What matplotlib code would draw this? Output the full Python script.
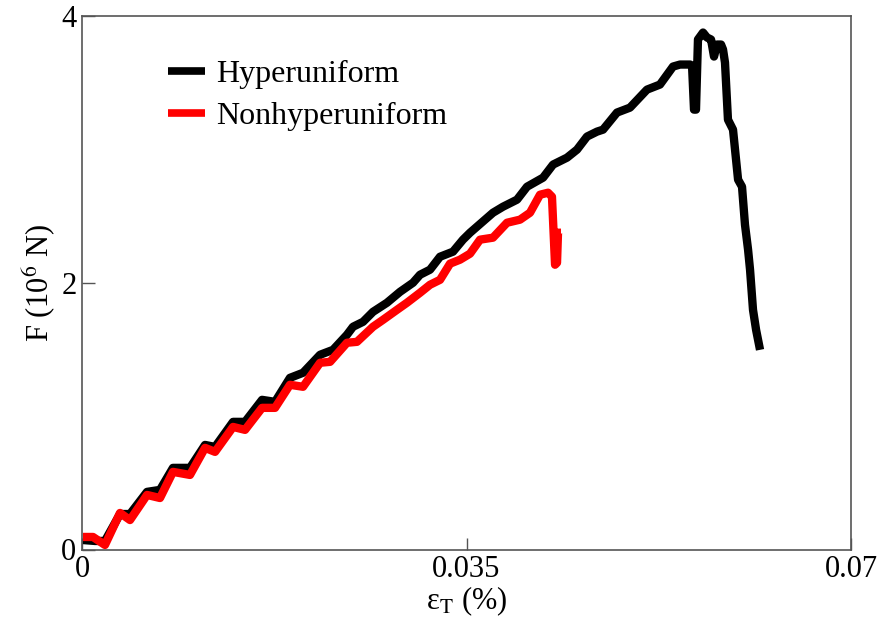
import matplotlib
matplotlib.use("Agg")
import matplotlib.pyplot as plt

# Hyperuniform (black) strain [%] and force [10^6 N]
hyper_x = [0.00009, 0.00118, 0.00209, 0.00346, 0.00437, 0.00592, 0.00710, 0.00828, 0.00983,
           0.01120, 0.01211, 0.01375, 0.01484, 0.01639, 0.01757, 0.01893, 0.02012, 0.02167,
           0.02285, 0.02412, 0.02467, 0.02558, 0.02649, 0.02776, 0.02895, 0.03013, 0.03077,
           0.03168, 0.03259, 0.03377, 0.03468, 0.03532, 0.03741, 0.03832, 0.03960, 0.04051,
           0.04197, 0.04288, 0.04415, 0.04506, 0.04597, 0.04688, 0.04743, 0.04870, 0.04988,
           0.05143, 0.05261, 0.05380, 0.05444, 0.05535, 0.05553, 0.05571, 0.05589, 0.05607,
           0.05653, 0.05689, 0.05726, 0.05753, 0.05780, 0.05817, 0.05835, 0.05853, 0.05880,
           0.05926, 0.05972, 0.06008, 0.06035, 0.06063, 0.06081, 0.06108, 0.06136, 0.06154,
           0.06172]
hyper_y = [0.071, 0.064, 0.064, 0.266, 0.266, 0.432, 0.447, 0.612, 0.612,
           0.784, 0.769, 0.957, 0.957, 1.122, 1.107, 1.287, 1.325, 1.460,
           1.497, 1.610, 1.670, 1.707, 1.782, 1.850, 1.932, 2.000, 2.060,
           2.098, 2.195, 2.233, 2.323, 2.375, 2.525, 2.570, 2.623, 2.720,
           2.788, 2.886, 2.938, 2.998, 3.096, 3.133, 3.148, 3.276, 3.313,
           3.448, 3.486, 3.621, 3.636, 3.636, 3.628, 3.298, 3.298, 3.824,
           3.876, 3.839, 3.824, 3.696, 3.786, 3.786, 3.749, 3.651, 3.223,
           3.148, 2.773, 2.720, 2.435, 2.248, 2.098, 1.797, 1.647, 1.572,
           1.497]

# Nonhyperuniform (red)
non_x = [0.00009, 0.00100, 0.00209, 0.00346, 0.00437, 0.00592, 0.00710, 0.00828, 0.00983,
         0.01120, 0.01211, 0.01375, 0.01484, 0.01639, 0.01757, 0.01893, 0.02012, 0.02167,
         0.02258, 0.02412, 0.02503, 0.02649, 0.02740, 0.02867, 0.02958, 0.03077, 0.03168,
         0.03259, 0.03350, 0.03441, 0.03532, 0.03623, 0.03741, 0.03869, 0.03987, 0.04078,
         0.04169, 0.04242, 0.04278, 0.04306, 0.04324, 0.04333, 0.04360]
non_y = [0.094, 0.094, 0.034, 0.274, 0.221, 0.409, 0.386, 0.582, 0.559,
         0.762, 0.732, 0.919, 0.897, 1.062, 1.062, 1.235, 1.220, 1.400,
         1.407, 1.550, 1.557, 1.670, 1.722, 1.797, 1.850, 1.925, 1.985,
         2.022, 2.143, 2.173, 2.218, 2.323, 2.338, 2.450, 2.473, 2.525,
         2.660, 2.675, 2.645, 2.135, 2.150, 2.375, 2.375]

x_ticks = [0, 0.035, 0.07]
x_tick_labels = ["0", "0.035", "0.07"]
y_ticks = [0, 2, 4]
y_tick_labels = ["0", "2", "4"]

plt.rcParams['font.family'] = ['Liberation Serif', 'DejaVu Serif']
plt.rcParams['mathtext.fontset'] = 'stix'

fig = plt.figure(figsize=(8.85, 6.31), dpi=100)
ax = fig.add_axes([82/885, 1 - 549.5/631, (851 - 82)/885, (549.5 - 16)/631])

ax.plot(hyper_x, hyper_y, color='black', lw=6, solid_joinstyle='round',
        solid_capstyle='butt', label='Hyperuniform', zorder=2)
ax.plot(non_x, non_y, color='#ff0000', lw=6, solid_joinstyle='round',
        solid_capstyle='butt', label='Nonhyperuniform', zorder=3)

ax.set_xlim(0, 0.07)
ax.set_ylim(0, 4)
ax.set_xticks(x_ticks)
ax.set_xticklabels(x_tick_labels)
ax.set_yticks(y_ticks)
ax.set_yticklabels(y_tick_labels)
ax.tick_params(direction='in', length=9, width=1.0, color='#555555',
               labelsize=22)
ax.tick_params(axis='x', pad=4)
ax.tick_params(axis='y', pad=4)
for s in ax.spines.values():
    s.set_color('#555555')
    s.set_linewidth(1.2)

ax.set_xlabel(r'ε$_{\mathrm{T}}$ (%)', fontsize=22, labelpad=0)
ax.set_ylabel(r'F (10$^{6}$ N)', fontsize=22, labelpad=2)

leg = ax.legend(loc='upper left', bbox_to_anchor=(0.112, 0.918), frameon=False,
                fontsize=23, handlelength=1.15, handletextpad=0.35,
                labelspacing=0.4, borderpad=0, borderaxespad=0)
for h in leg.get_lines():
    h.set_linewidth(5.5)

fig.savefig('out.png', dpi=100)
